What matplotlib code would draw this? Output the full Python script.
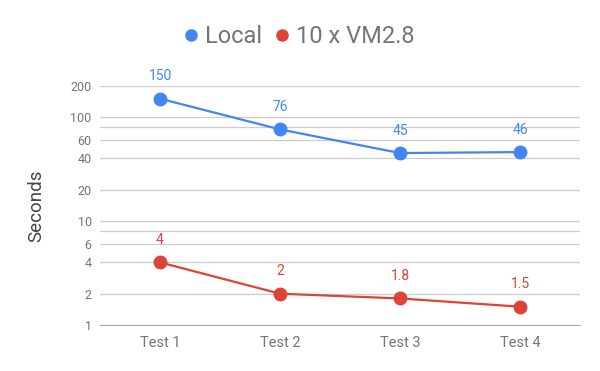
import matplotlib
matplotlib.use("Agg")
import matplotlib.pyplot as plt
from matplotlib.lines import Line2D
from matplotlib.ticker import FixedLocator, NullLocator

plt.rcParams['font.family'] = ['Roboto', 'DejaVu Sans']

tests = ["Test 1", "Test 2", "Test 3", "Test 4"]
local = [150, 76, 45, 46]
vm = [4, 2, 1.8, 1.5]
local_labels = ["150", "76", "45", "46"]
vm_labels = ["4", "2", "1.8", "1.5"]
grid_ticks = [1, 2, 4, 6, 8, 10, 20, 40, 60, 80, 100, 200]
label_ticks = [1, 2, 4, 6, 10, 20, 40, 60, 100, 200]

blue = '#4285F4'
red = '#DB4437'
grey = '#757575'

fig = plt.figure(figsize=(6, 3.71), dpi=100)
ax = fig.add_axes([100 / 600, 46 / 371, 480 / 600, (325 - 85.7) / 371])

x = list(range(len(tests)))
ax.plot(x, local, '-o', color=blue, lw=1.6, markersize=9, zorder=3)
ax.plot(x, vm, '-o', color=red, lw=1.6, markersize=9, zorder=3)

# value labels above the points
for xi, v, t in zip(x, local, local_labels):
    ax.annotate(t, (xi, v), xytext=(0, 11), textcoords='offset points',
                ha='center', va='bottom', color=blue, fontsize=10)
for xi, v, t in zip(x, vm, vm_labels):
    ax.annotate(t, (xi, v), xytext=(0, 11), textcoords='offset points',
                ha='center', va='bottom', color=red, fontsize=10)

ax.set_yscale('log')
ax.set_ylim(1, 200)
ax.set_xlim(-0.5, 3.5)
ax.yaxis.set_major_locator(FixedLocator(grid_ticks))
ax.yaxis.set_minor_locator(NullLocator())
ax.set_yticklabels([str(t) if t in label_ticks else '' for t in grid_ticks])
ax.set_xticks(x)
ax.set_xticklabels(tests)
ax.tick_params(axis='both', length=0, colors=grey, labelsize=9, pad=6)
ax.tick_params(axis='x', labelsize=10.5, pad=8)
ax.grid(axis='y', color='#cccccc', lw=0.9)
for s in ['top', 'right', 'left']:
    ax.spines[s].set_visible(False)
ax.spines['bottom'].set_color('#aaaaaa')
ax.set_axisbelow(True)

ax.set_ylabel('Seconds', fontsize=13.5, color='#444444', labelpad=18)

handles = [Line2D([], [], ls='none', marker='o', color=blue, markersize=8),
           Line2D([], [], ls='none', marker='o', color=red, markersize=8)]
fig.legend(handles, ['Local', '10 x VM2.8'], loc='upper center',
           bbox_to_anchor=(0.5, 0.99), ncol=2, frameon=False,
           fontsize=17, labelcolor=grey, handlelength=0.5, handletextpad=0.35,
           columnspacing=0.6)

fig.savefig('out.png', dpi=100)
